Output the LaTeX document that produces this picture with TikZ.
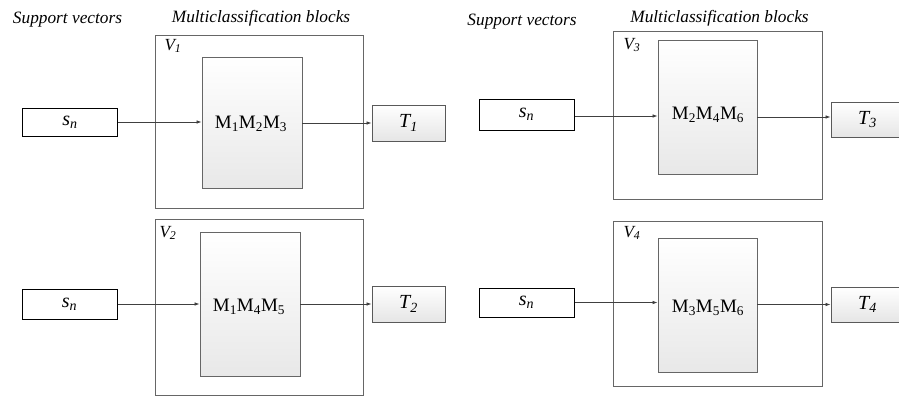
\documentclass[tikz,border=0pt]{standalone}
\usepackage{fontspec}
\setmainfont{Liberation Serif}
\usetikzlibrary{arrows.meta}
\begin{document}
\begin{tikzpicture}[x=1pt,y=-1pt,
  frame/.style={draw=black!60, line width=0.9pt, fill=none, minimum width=#1},
  block/.style={draw=black!60, line width=0.8pt, top color=white, bottom color=black!9,
    inner sep=0pt, minimum width=99pt},
  src/.style={draw=black, line width=1pt, fill=white, inner sep=0pt,
    minimum width=95pt, font=\fontsize{20}{24}\selectfont\itshape},
  dst/.style={draw=black!65, line width=0.9pt, top color=white, bottom color=black!10,
    inner sep=0pt, minimum width=73pt, minimum height=35pt,
    font=\fontsize{20}{24}\selectfont\itshape},
  head/.style={font=\fontsize{17.3}{20}\selectfont\itshape, inner sep=0pt},
  vlab/.style={font=\fontsize{17}{20}\selectfont\itshape, inner sep=0pt},
  mlab/.style={font=\fontsize{19}{22}\selectfont, inner sep=0pt},
  arr/.style={-{Latex[length=5pt,width=3.5pt]}, draw=black!75, line width=0.7pt}]
\useasboundingbox (0,0) rectangle (899,396);
\clip (0,0) rectangle (899,396);

% column headings
\node[head] (hs1) at (67.5,20) {Support vectors};
\node[head] (hm1) at (261,18) {Multiclassification blocks};
\node[head] (hs2) at (522,22) {Support vectors};
\node[head] (hm2) at (719.5,18) {Multiclassification blocks};

% ---- V1 ----
\node[frame=208pt, minimum height=173pt] (v1) at (259,121.5) {};
\node[vlab] (v1l) at (173,46) {V\textsubscript{1}};
\node[block, minimum width=100pt, minimum height=131pt] (m1) at (252,122.5) {};
\node[mlab] (m1l) at (251,124) {M\textsubscript{1}M\textsubscript{2}M\textsubscript{3}};
\node[src, minimum height=28pt] (s1) at (70,122) {s\textsubscript{n}};
\node[dst, minimum height=36pt] (t1) at (408.5,123) {T\textsubscript{1}};
\draw[arr] (s1.east) -- (s1.east -| m1.west);
\draw[arr] (t1.west -| m1.east) -- (t1.west);

% ---- V2 ----
\node[frame=208pt, minimum height=176pt] (v2) at (259,307) {};
\node[vlab] (v2l) at (168,233) {V\textsubscript{2}};
\node[block, minimum width=100pt, minimum height=144pt] (m2) at (250,304) {};
\node[mlab] (m2l) at (249,307) {M\textsubscript{1}M\textsubscript{4}M\textsubscript{5}};
\node[src, minimum height=30pt] (s2) at (69.5,304) {s\textsubscript{n}};
\node[dst, minimum height=36pt] (t2) at (408.5,304) {T\textsubscript{2}};
\draw[arr] (s2.east) -- (s2.east -| m2.west);
\draw[arr] (t2.west -| m2.east) -- (t2.west);

% ---- V3 ----
\node[frame=209pt, minimum height=168pt] (v3) at (717.5,115) {};
\node[vlab] (v3l) at (632,45) {V\textsubscript{3}};
\node[block, minimum height=134pt] (m3) at (707.5,107) {};
\node[mlab] (m3l) at (708,115) {M\textsubscript{2}M\textsubscript{4}M\textsubscript{6}};
\node[src, minimum height=31pt] (s3) at (526.5,114.5) {s\textsubscript{n}};
\node[dst] (t3) at (867.5,119.5) {T\textsubscript{3}};
\coordinate (o3) at (0,117);
\draw[arr] (s3.east |- 0,116) -- (m3.west |- 0,116);
\draw[arr] (m3.east |- o3) -- (t3.west |- o3);

% ---- V4 ----
\node[frame=209pt, minimum height=165pt] (v4) at (717.5,303.5) {};
\node[vlab] (v4l) at (632,233) {V\textsubscript{4}};
\node[block, minimum height=134pt] (m4) at (707.5,305) {};
\node[mlab] (m4l) at (708,308) {M\textsubscript{3}M\textsubscript{5}M\textsubscript{6}};
\node[src, minimum height=29pt] (s4) at (526.5,302.5) {s\textsubscript{n}};
\node[dst] (t4) at (867.5,304.5) {T\textsubscript{4}};
\draw[arr] (s4.east) -- (s4.east -| m4.west);
\draw[arr] (t4.west -| m4.east) -- (t4.west);
\end{tikzpicture}
\end{document}
